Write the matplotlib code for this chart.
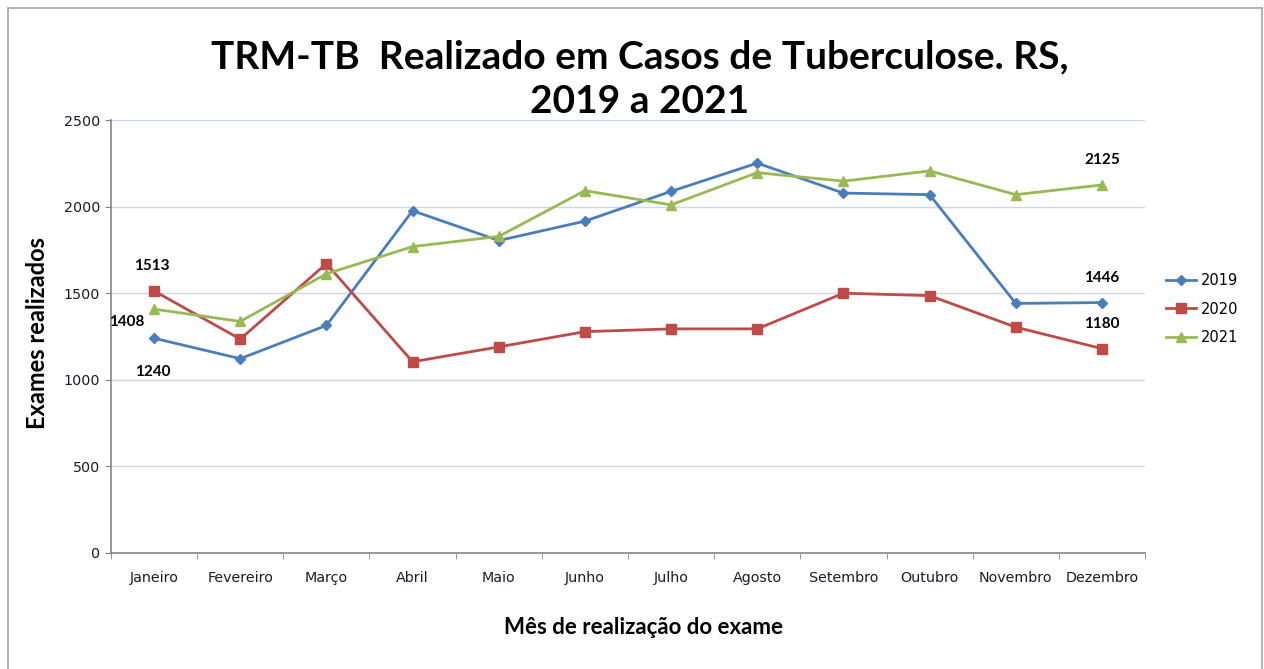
import matplotlib
matplotlib.use("Agg")
import matplotlib.pyplot as plt
from matplotlib.lines import Line2D
import numpy as np

months = ["Janeiro", "Fevereiro", "Março", "Abril", "Maio", "Junho", "Julho",
          "Agosto", "Setembro", "Outubro", "Novembro", "Dezembro"]
v2019 = [1240, 1122, 1314, 1976, 1804, 1916, 2088, 2251, 2078, 2069, 1441, 1446]
v2020 = [1513, 1235, 1671, 1104, 1190, 1278, 1294, 1294, 1500, 1486, 1304, 1180]
v2021 = [1408, 1337, 1612, 1769, 1828, 2092, 2010, 2196, 2147, 2206, 2069, 2125]
years = ["2019", "2020", "2021"]
yticks = [0, 500, 1000, 1500, 2000, 2500]

title1 = "TRM-TB  Realizado em Casos de Tuberculose. RS,"
title2 = "2019 a 2021"
ylabel = "Exames realizados"
xlabel = "Mês de realização do exame"

W, H = 1264, 669
fig = plt.figure(figsize=(W / 100, H / 100), dpi=100)
fig.patch.set_facecolor("white")

def fx(px):
    return px / W

def fy(py):
    return 1 - py / H

ax = fig.add_axes([fx(111), fy(553), fx(1145) - fx(111), fy(120) - fy(553)])

colors = ["#4A7EBB", "#BE4B48", "#98B954"]
markers = ["D", "s", "^"]
msizes = [5.5, 7.5, 7]
x = np.arange(len(months))
series = [v2019, v2020, v2021]
for vals, c, m, ms, lab in zip(series, colors, markers, msizes, years):
    ax.plot(x, vals, color=c, marker=m, markersize=ms, linewidth=2.0,
            markeredgecolor=c, label=lab, zorder=3)

ax.set_xlim(-0.5, len(months) - 0.5)
ax.set_ylim(0, 2500)
ax.set_yticks(yticks)
ax.set_yticklabels([str(t) for t in yticks])
ax.set_xticks(x)
ax.set_xticklabels(months, fontfamily="DejaVu Sans")
ax.set_xticks(np.arange(-0.5, len(months), 1.0), minor=True)
for t in ax.get_yticklabels():
    t.set_fontfamily("DejaVu Sans")

ax.tick_params(axis="x", which="major", length=0, pad=13, labelsize=10.3, labelcolor="#1a1a2e")
ax.tick_params(axis="x", which="minor", length=4, color="#868686", direction="out")
ax.tick_params(axis="y", which="major", length=4, color="#868686", direction="out",
               pad=4, labelsize=10.3, labelcolor="#1a1a2e")

for s in ["top", "right"]:
    ax.spines[s].set_visible(False)
for s in ["left", "bottom"]:
    ax.spines[s].set_color("#868686")
    ax.spines[s].set_linewidth(1.2)

ax.yaxis.grid(True, color="#CDD6EA", linewidth=1.0, zorder=0)
ax.set_axisbelow(True)

# Data labels
lblfont = dict(fontfamily="Lato", fontweight="bold", fontsize=11, color="black")
ax.annotate(str(v2020[0]), (0, v2020[0]), xytext=(-2, 18), textcoords="offset points",
            ha="center", va="center", **lblfont)
ax.annotate(str(v2021[0]), (0, v2021[0]), xytext=(-7, -9), textcoords="offset points",
            ha="right", va="center", **lblfont)
ax.annotate(str(v2019[0]), (0, v2019[0]), xytext=(-1, -24), textcoords="offset points",
            ha="center", va="center", **lblfont)
n = len(months) - 1
ax.annotate(str(v2021[n]), (n, v2021[n]), xytext=(0, 18), textcoords="offset points",
            ha="center", va="center", **lblfont)
ax.annotate(str(v2019[n]), (n, v2019[n]), xytext=(0, 18), textcoords="offset points",
            ha="center", va="center", **lblfont)
ax.annotate(str(v2020[n]), (n, v2020[n]), xytext=(0, 18), textcoords="offset points",
            ha="center", va="center", **lblfont)

# Titles
fig.text(fx(640), fy(68), title1, ha="center", va="baseline",
         fontfamily="Lato", fontweight="bold", fontsize=28, color="black")
fig.text(fx(640), fy(113), title2, ha="center", va="baseline",
         fontfamily="Lato", fontweight="bold", fontsize=28, color="black")
fig.text(fx(38), fy(333), ylabel, rotation=90, ha="center", va="center",
         fontfamily="Lato", fontweight="bold", fontsize=17, color="black")
fig.text(fx(643), fy(628), xlabel, ha="center", va="center",
         fontfamily="Lato", fontweight="bold", fontsize=16, color="black")

# Legend
handles = [Line2D([0], [0], color=c, marker=m, markersize=ms, linewidth=2.0,
                  markeredgecolor=c) for c, m, ms in zip(colors, markers, msizes)]
fig.legend(handles, years, loc="center left", bbox_to_anchor=(fx(1160), fy(309)),
           frameon=False, fontsize=10.5, handlelength=2.1, handletextpad=0.3,
           labelspacing=0.95, borderaxespad=0)

# Chart border
bc = "#A6A6A6"
fig.add_artist(Line2D([fx(8), fx(8)], [fy(8), fy(669)], color=bc, lw=1.2))
fig.add_artist(Line2D([fx(8), fx(1262)], [fy(8), fy(8)], color=bc, lw=1.2))
fig.add_artist(Line2D([fx(1262), fx(1262)], [fy(8), fy(669)], color=bc, lw=1.2))

fig.savefig("out.png", dpi=100, facecolor="white")
